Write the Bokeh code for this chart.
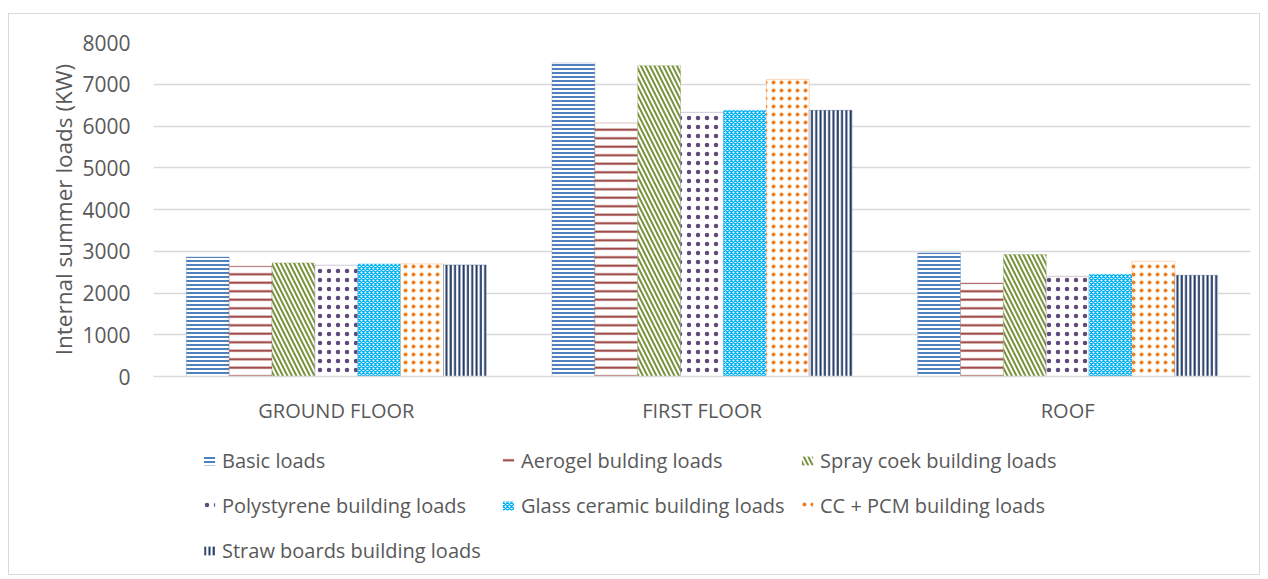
from bokeh.plotting import figure
from bokeh.layouts import column
from bokeh.models import FactorRange, Range1d, Legend, LegendItem, ColumnDataSource, FixedTicker
from bokeh.transform import dodge
from bokeh.embed import file_html
from bokeh.resources import INLINE

floors = ["GROUND FLOOR", "FIRST FLOOR", "ROOF"]
basic = [2864, 7510, 2960]
aerogel = [2641, 6072, 2240]
spray = [2721, 7446, 2920]
polystyrene = [2665, 6327, 2400]
glass = [2697, 6375, 2448]
ccpcm = [2697, 7112, 2760]
straw = [2673, 6375, 2424]
series_names = ["Basic loads", "Aerogel bulding loads", "Spray coek building loads",
                "Polystyrene building loads", "Glass ceramic building loads",
                "CC + PCM building loads", "Straw boards building loads"]
y_ticks = [0, 1000, 2000, 3000, 4000, 5000, 6000, 7000, 8000]

series = [basic, aerogel, spray, polystyrene, glass, ccpcm, straw]
keys = ["basic", "aerogel", "spray", "poly", "glass", "cc", "straw"]
styles = [
    dict(hatch_pattern="-", hatch_color="#4F81BD", hatch_scale=4, hatch_weight=2),
    dict(hatch_pattern="-", hatch_color="#953735", hatch_scale=8.5, hatch_weight=2),
    dict(hatch_pattern="\\", hatch_color="#77933C", hatch_scale=9, hatch_weight=2),
    dict(hatch_pattern=".", hatch_color="#604A7B", hatch_scale=9, hatch_weight=5),
    dict(hatch_pattern="x", hatch_color="#00B0F0", hatch_scale=4, hatch_weight=1.4),
    dict(hatch_pattern=".", hatch_color="#F07E1E", hatch_scale=8, hatch_weight=1.8),
    dict(hatch_pattern="|", hatch_color="#1F3864", hatch_scale=4.3, hatch_weight=2),
]

data = {"floor": floors}
for k, s in zip(keys, series):
    data[k] = s
src = ColumnDataSource(data)

FONT = "Open Sans"
TXT = "#595959"
GRID = "#d9d9d9"

p = figure(x_range=FactorRange(*floors), y_range=Range1d(0, 8000),
           width=1250, height=430, output_backend="svg", toolbar_location=None,
           min_border_left=144, min_border_right=9, min_border_top=28, min_border_bottom=68)
p.outline_line_color = None
p.xgrid.grid_line_color = None
p.ygrid.grid_line_color = GRID
p.ygrid.grid_line_width = 1.3
p.yaxis.ticker = FixedTicker(ticks=y_ticks)

bw = 0.1172
for i, (k, st) in enumerate(zip(keys, styles)):
    p.vbar(x=dodge("floor", (i - 3) * bw, range=p.x_range), top=k, width=bw,
           source=src, fill_color="white", line_color=st["hatch_color"],
           line_alpha=0.3, line_width=1, **st)

for ax in (p.xaxis, p.yaxis):
    ax.major_tick_line_color = None
    ax.minor_tick_line_color = None
    ax.major_tick_out = 0
    ax.major_tick_in = 0
    ax.major_label_text_font = FONT
    ax.major_label_text_color = TXT

p.yaxis.major_label_text_font_size = "21px"
p.yaxis.axis_line_color = None
p.yaxis.major_label_standoff = 23
p.yaxis.axis_label = "Internal summer loads (KW)"
p.yaxis.axis_label_text_font = FONT
p.yaxis.axis_label_text_font_style = "normal"
p.yaxis.axis_label_text_font_size = "22.5px"
p.yaxis.axis_label_text_color = TXT
p.yaxis.axis_label_standoff = 0

p.xaxis.axis_line_color = GRID
p.xaxis.axis_line_width = 1.3
p.xaxis.major_label_standoff = 20
p.xaxis.major_label_text_font_size = "20px"

# legend figure: its renderers are hidden, only the legend is shown
p2 = figure(x_range=FactorRange(*floors), y_range=Range1d(-2, -1), width=1250, height=130,
            output_backend="svg", toolbar_location=None,
            min_border_left=0, min_border_right=0, min_border_top=0, min_border_bottom=0)
p2.axis.visible = False
p2.grid.visible = False
p2.outline_line_color = None
items = []
for i, (k, name, st) in enumerate(zip(keys, series_names, styles)):
    r = p2.vbar(x=dodge("floor", (i - 3) * bw, range=p2.x_range), top=k, width=bw,
                source=src, fill_color="white", line_color=None, **st)
    r.visible = False
    items.append(LegendItem(label=name, renderers=[r]))

legend = Legend(items=items, location=(49, 9), orientation="horizontal", ncols=3,
                glyph_width=14, glyph_height=11, label_standoff=6, label_width=264,
                label_height=30, spacing=15, padding=0, margin=0,
                border_line_color=None, background_fill_alpha=0,
                label_text_font=FONT, label_text_font_size="20px", label_text_color=TXT)
p2.add_layout(legend, "center")

layout = column(p, p2, spacing=0, margin=(13, 0, 0, 8),
                styles={"border": "1px solid #d9d9d9"})

open("out.html", "w").write(file_html(layout, INLINE))
